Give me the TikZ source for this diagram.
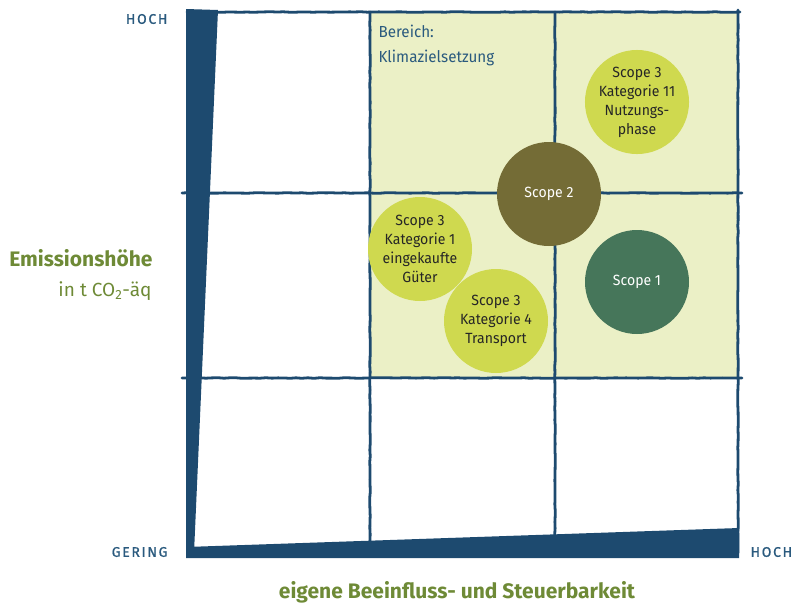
\documentclass[tikz,border=0pt]{standalone}
\usepackage{fontspec}
\setmainfont{Fira Sans}[FakeStretch=0.95]
\newfontfamily\labfont{Fira Sans}[LetterSpace=12,FakeBold=0.8]
\newfontfamily\widefont{Fira Sans}
\usetikzlibrary{decorations.pathmorphing}
\definecolor{gridblue}{HTML}{1D4A6F}
\definecolor{txtblue}{HTML}{2A5A7E}
\definecolor{zone}{HTML}{EBF0C6}
\definecolor{lime}{HTML}{CFD94F}
\definecolor{olive}{HTML}{746C36}
\definecolor{darkgreen}{HTML}{46765A}
\definecolor{axisgreen}{HTML}{6E8A36}
\tikzset{
  gridline/.style={draw=gridblue, line width=2.8pt, line cap=round,
    decorate, decoration={random steps, segment length=6pt, amplitude=0.3pt}},
  bubble/.style={circle, minimum size=104pt, inner sep=0pt, align=center,
    font=\fontsize{14.8}{19}\selectfont},
  limeb/.style={bubble, fill=lime, text=black!85},
  axislab/.style={font=\labfont\fontsize{14}{16}\selectfont, text=txtblue},
}
\begin{document}
\begin{tikzpicture}[x=1pt,y=-1pt]
\useasboundingbox (0,0) rectangle (798,606);
% zone
\fill[zone] (370,12) rectangle (738,378);
% grid lines
\draw[gridline] (187,12) -- (740,12);
\draw[gridline] (182,193) -- (742,193);
\draw[gridline] (182,378) -- (742,378);
\draw[gridline] (370,12) -- (370,553);
\draw[gridline] (555,12) -- (555,550);
\draw[gridline] (738,10) -- (738,553);
% thick wedges
\fill[gridblue] (186,9) -- (218,10) -- (194,553) -- (186,556) -- cycle;
\fill[gridblue] (186,547) -- (739,528) -- (739,558) -- (186,558) -- cycle;
% zone title
\node[anchor=west, text=txtblue, font=\fontsize{16}{25}\selectfont, align=left] (zt) at (375,45) {Bereich:\\Klimazielsetzung};
% bubbles
\node[limeb] (k11) at (637,102) {Scope 3\\Kategorie 11\\Nutzungs-\\phase};
\node[bubble, fill=olive, text=white] (s2) at (549,194) {Scope 2};
\node[bubble, fill=darkgreen, text=white] (s1) at (637,282) {Scope 1};
\node[limeb] (k1) at (420,249) {Scope 3\\Kategorie 1\\eingekaufte\\Güter};
\node[limeb] (k4) at (496,321) {Scope 3\\Kategorie 4\\Transport};
% axis labels
\node[axislab, anchor=east] (yhoch) at (171,19) {HOCH};
\node[axislab, anchor=east] (gering) at (171,552) {GERING};
\node[axislab, anchor=west] (xhoch) at (747,552) {HOCH};
\node[anchor=east, text=axisgreen, font=\widefont\bfseries\fontsize{21}{24}\selectfont] (emi) at (156,258) {Emissionshöhe};
\node[anchor=east, text=axisgreen, font=\widefont\fontsize{19}{22}\selectfont] (unit) at (155,291) {in t CO\textsubscript{2}-äq};
\node[text=axisgreen, font=\widefont\bfseries\fontsize{21}{24}\selectfont] (xlab) at (457,592) {eigene Beeinfluss- und Steuerbarkeit};
\end{tikzpicture}
\end{document}
